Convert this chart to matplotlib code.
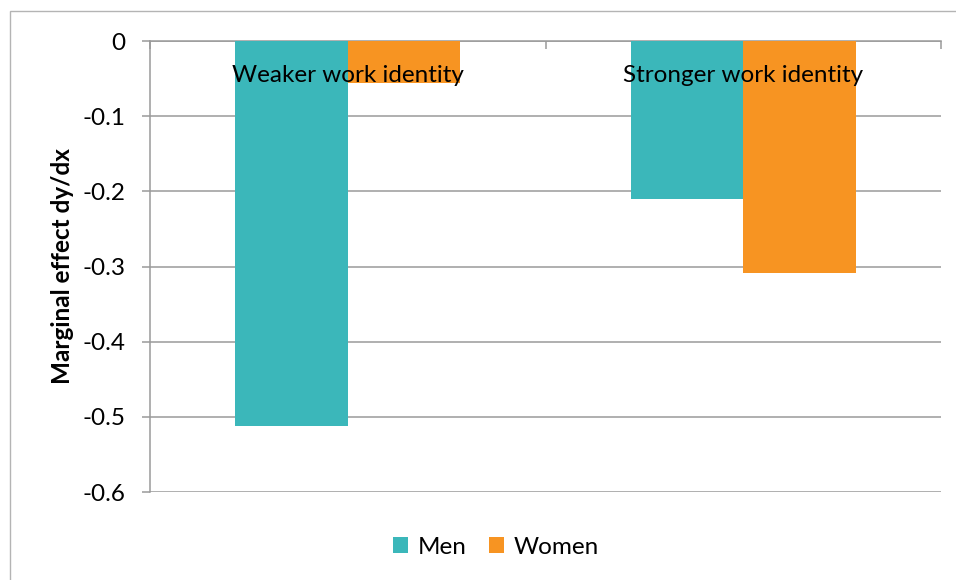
import matplotlib
matplotlib.use('Agg')

import matplotlib.pyplot as plt
import matplotlib.patches as patches
import matplotlib.transforms as transforms
import numpy as np

categories = ['Weaker work identity', 'Stronger work identity']
series_names = ['Men', 'Women']
men = [-0.512, -0.210]
women = [-0.056, -0.309]
y_ticks = [0, -0.1, -0.2, -0.3, -0.4, -0.5, -0.6]
y_tick_labels = ['0', '-0.1', '-0.2', '-0.3', '-0.4', '-0.5', '-0.6']

colors = ['#3BB7BA', '#F79422']
grid_color = '#9a9a9a'

plt.rcParams['font.family'] = ['Lato', 'DejaVu Sans']

fig = plt.figure(figsize=(9.56, 5.8), dpi=100)
W, H = 956, 580
ax = fig.add_axes([150 / W, 1 - 492 / H, (941 - 150) / W, (492 - 41) / H])

# outer chart frame (cut off at right / bottom like the reference)
frame = patches.Rectangle((10 / W, -0.1), 1.2, 1 - 11 / H + 0.1,
                          transform=fig.transFigure, fill=False,
                          edgecolor='#b4b4b4', linewidth=1.0, clip_on=False)
fig.patches.append(frame)

x = np.arange(len(categories))
width = 0.285
ax.bar(x - width / 2, men, width, color=colors[0], label=series_names[0], zorder=3)
ax.bar(x + width / 2, women, width, color=colors[1], label=series_names[1], zorder=3)

ax.set_xlim(-0.5, len(categories) - 0.5)
ax.set_ylim(-0.6, 0)

fs = 17.5
ax.set_yticks(y_ticks)
ax.set_yticklabels(y_tick_labels, fontsize=fs)
ax.tick_params(axis='y', direction='out', length=5.8, width=1.1, color=grid_color, pad=12)
ax.yaxis.grid(True, color=grid_color, linewidth=1.1, zorder=0)

# category axis sits at the top (y = 0); labels are drawn just below it
ax.xaxis.set_ticks_position('top')
ax.set_xticks(np.arange(len(categories) + 1) - 0.5)
ax.set_xticklabels([])
ax.tick_params(axis='x', direction='in', length=5.8, width=1.1, color=grid_color)
trans = transforms.blended_transform_factory(ax.transData, ax.transAxes)
for i, cat in enumerate(categories):
    ax.text(i, 1 - (75 - 41) / (492 - 41), cat, transform=trans, ha='center',
            va='center', fontsize=fs, zorder=5)

for side in ['right', 'bottom']:
    ax.spines[side].set_visible(False)
ax.spines['top'].set_color(grid_color)
ax.spines['top'].set_linewidth(1.1)
ax.spines['left'].set_color(grid_color)
ax.spines['left'].set_linewidth(1.1)
ax.set_axisbelow(True)

fig.text(62 / W, 1 - 266 / H, 'Marginal effect dy/dx', rotation=90, ha='center',
         va='center', fontsize=fs, fontweight='bold')

fig.legend(loc='center', bbox_to_anchor=(496 / W, 1 - 547 / H), ncol=2, frameon=False,
           fontsize=fs, handlelength=0.62, handleheight=0.62, handletextpad=0.4,
           columnspacing=0.9)

fig.savefig('out.png', dpi=100)
